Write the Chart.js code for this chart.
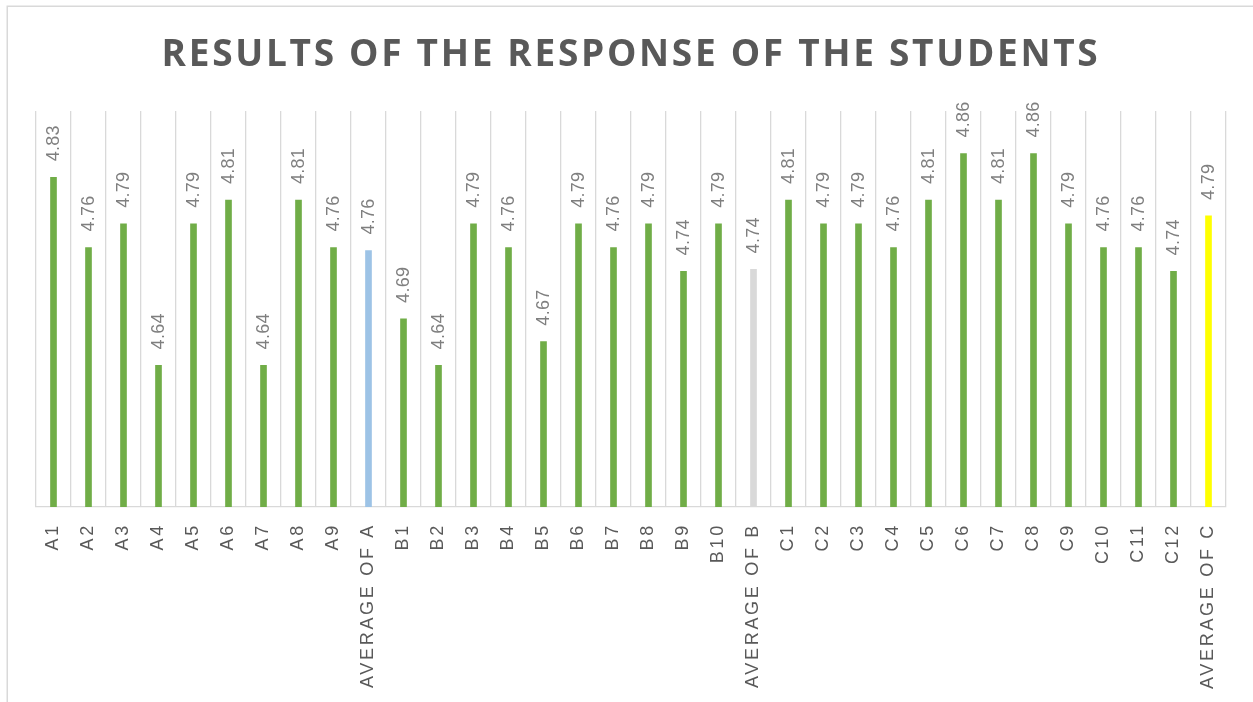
<!DOCTYPE html>
<html>
<head>
<meta charset="utf-8">
<title>Results of the response of the students</title>
<script src="https://cdn.jsdelivr.net/npm/chart.js@4.4.1/dist/chart.umd.min.js"></script>
<style>
  html, body { margin: 0; padding: 0; background: #fff; overflow: hidden; }
  #wrap { position: relative; width: 1253px; height: 702px; }
</style>
</head>
<body>
<div id="wrap"><canvas id="resultsChart"></canvas></div>
<script>
// categories as they run along the axis
const CATEGORIES = [
  'A1', 'A2', 'A3', 'A4', 'A5', 'A6', 'A7', 'A8', 'A9', 'AVERAGE OF A',
  'B1', 'B2', 'B3', 'B4', 'B5', 'B6', 'B7', 'B8', 'B9', 'B10', 'AVERAGE OF B',
  'C1', 'C2', 'C3', 'C4', 'C5', 'C6', 'C7', 'C8', 'C9', 'C10', 'C11', 'C12', 'AVERAGE OF C',
];

// mean score per item
const SCORES = [
  4.833, 4.762, 4.786, 4.643, 4.786, 4.810, 4.643, 4.810, 4.762, 4.759,
  4.690, 4.643, 4.786, 4.762, 4.667, 4.786, 4.762, 4.786, 4.738, 4.786, 4.740,
  4.810, 4.786, 4.786, 4.762, 4.810, 4.857, 4.810, 4.857, 4.786, 4.762, 4.762, 4.738, 4.794,
];

const Y_MIN = 4.5;
const Y_MAX = 4.9;

const BAR_COLORS = {
  item: '#70ad47',
  'AVERAGE OF A': '#9dc3e6',
  'AVERAGE OF B': '#d9d9d9',
  'AVERAGE OF C': '#ffff00',
};

const TEXT_SPACING = '2.7px';

// spacing + outer frame
const chartFrame = {
  id: 'chartFrame',
  beforeLayout(chart) {
    chart.ctx.letterSpacing = TEXT_SPACING;
  },
  beforeDraw(chart) {
    const ctx = chart.ctx;
    ctx.save();
    ctx.strokeStyle = '#d9d9d9';
    ctx.lineWidth = 1.5;
    ctx.strokeRect(7.25, 6.25, 1400, 900);
    ctx.restore();
    ctx.letterSpacing = TEXT_SPACING;
  },
};

// value labels, rotated above each bar
const barValueLabels = {
  id: 'barValueLabels',
  afterDatasetsDraw(chart) {
    const ctx = chart.ctx;
    const meta = chart.getDatasetMeta(0);
    const data = chart.data.datasets[0].data;
    ctx.save();
    ctx.letterSpacing = '0.3px';
    ctx.font = '18px "Liberation Sans"';
    ctx.fillStyle = '#7f7f7f';
    ctx.textAlign = 'left';
    ctx.textBaseline = 'middle';
    meta.data.forEach((bar, i) => {
      ctx.save();
      ctx.translate(bar.x + 1, bar.y - 16);
      ctx.rotate(-Math.PI / 2);
      ctx.fillText(data[i].toFixed(2), 0, 0);
      ctx.restore();
    });
    ctx.restore();
    ctx.letterSpacing = TEXT_SPACING;
  },
};

new Chart(document.getElementById('resultsChart'), {
  type: 'bar',
  data: {
    labels: CATEGORIES,
    datasets: [{
      data: SCORES,
      backgroundColor: CATEGORIES.map((c) => BAR_COLORS[c] || BAR_COLORS.item),
      barThickness: 6,
    }],
  },
  options: {
    responsive: true,
    maintainAspectRatio: false,
    animation: false,
    layout: { padding: { left: 36, right: 27, top: 0, bottom: 0 } },
    plugins: {
      legend: { display: false },
      tooltip: { enabled: false },
      title: {
        display: true,
        text: 'RESULTS OF THE RESPONSE OF THE STUDENTS',
        color: '#595959',
        font: { family: 'Open Sans', size: 37, weight: 'bold' },
        padding: { top: 33, bottom: 33.6 },
      },
    },
    scales: {
      x: {
        offset: true,
        grid: { color: '#d9d9d9', lineWidth: 1.3, drawTicks: false, offset: true },
        border: { color: '#d9d9d9', width: 1.3 },
        ticks: {
          color: '#595959',
          font: { family: 'Liberation Sans', size: 18 },
          minRotation: 90,
          maxRotation: 90,
          autoSkip: false,
          padding: 16,
        },
        afterFit(scale) { scale.height = 195; },
      },
      y: {
        display: false,
        min: Y_MIN,
        max: Y_MAX,
      },
    },
  },
  plugins: [chartFrame, barValueLabels],
});
</script>
</body>
</html>
